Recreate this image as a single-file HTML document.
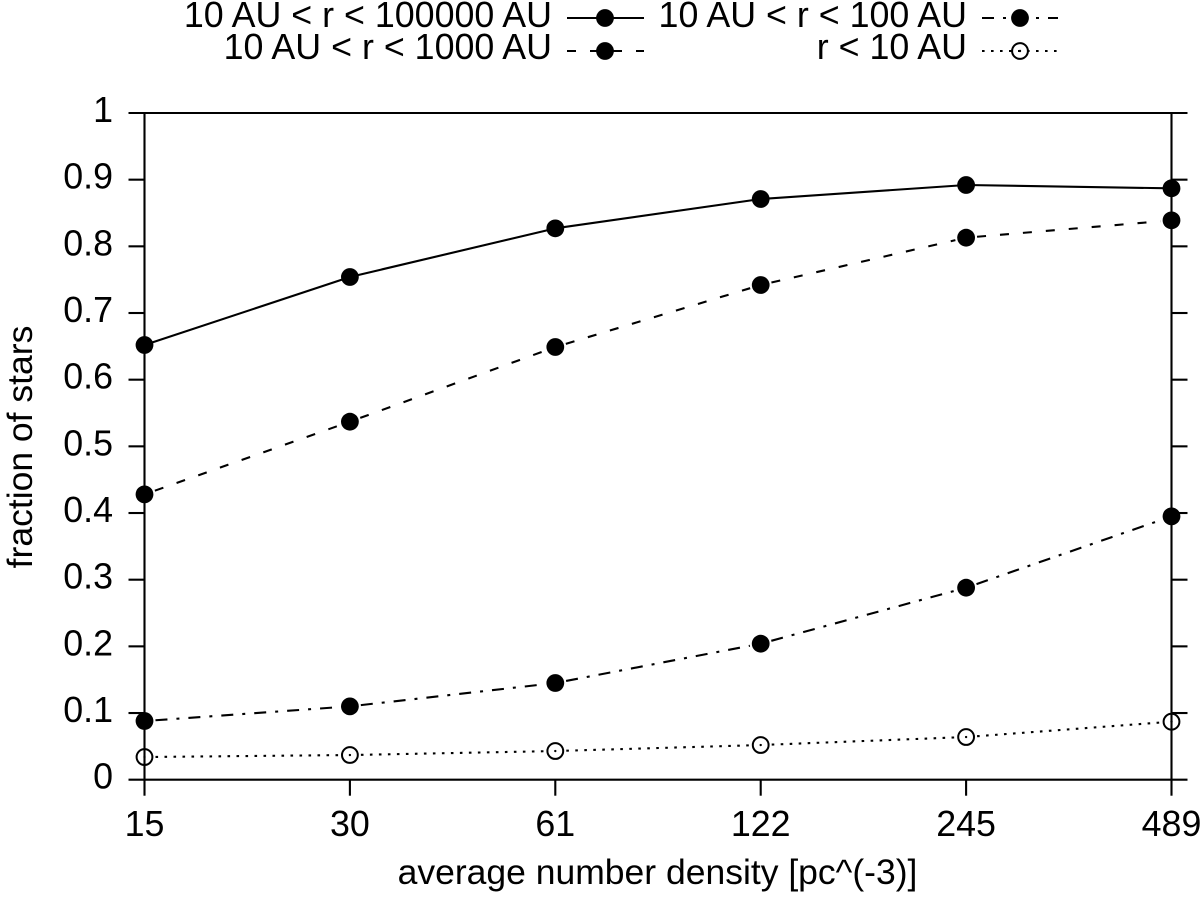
<!DOCTYPE html>
<html lang="en">
<head>
<meta charset="utf-8">
<title>Fraction of stars vs number density</title>
<style>
html,body{margin:0;padding:0;background:#fff;width:1200px;height:898px;overflow:hidden}
svg{display:block}
text{font-family:"Liberation Sans",sans-serif;font-size:35.8px;fill:#000}
text.axis-title{font-size:35.5px}
</style>
</head>
<body>
<svg id="chart" width="1200" height="898" viewBox="0 0 1200 898" xmlns="http://www.w3.org/2000/svg">
  <text class="axis-title" x="657.5" y="884" text-anchor="middle">average number density [pc^(-3)]</text>
  <text class="axis-title" transform="translate(32 447) rotate(-90)" text-anchor="middle">fraction of stars</text>
</svg>
<script>
const xTickLabels = ['15', '30', '61', '122', '245', '489'];
const yTickLabels = ['0', '0.1', '0.2', '0.3', '0.4', '0.5', '0.6', '0.7', '0.8', '0.9', '1'];
const yTickValues = [0, 0.1, 0.2, 0.3, 0.4, 0.5, 0.6, 0.7, 0.8, 0.9, 1];
const doublings = [0, 1, 2, 3, 4, 5];
const wideSeparation = [0.652, 0.754, 0.827, 0.871, 0.892, 0.887];
const midSeparation = [0.428, 0.537, 0.649, 0.742, 0.813, 0.839];
const closeSeparation = [0.088, 0.110, 0.145, 0.204, 0.288, 0.395];
const tightSeparation = [0.034, 0.037, 0.043, 0.052, 0.064, 0.087];

const NS = 'http://www.w3.org/2000/svg';
const svg = document.getElementById('chart');
const plot = {left: 144.5, right: 1171.5, top: 113, bottom: 779.7, tick: 16};
const dashes = {solid: '', dashed: '9 14', dashdot: '12 9 3 9', dotted: '2.6 6.4'};

function xScale(v) {
  const hi = doublings[doublings.length - 1];
  return plot.left + v / hi * (plot.right - plot.left);
}
function yScale(v) {
  return plot.bottom - v * (plot.bottom - plot.top);
}
function make(tag, attrs) {
  const el = document.createElementNS(NS, tag);
  for (const k in attrs) el.setAttribute(k, attrs[k]);
  svg.appendChild(el);
  return el;
}
function drawLine(x1, y1, x2, y2, dash) {
  const el = make('line', {x1, y1, x2, y2, stroke: '#000', 'stroke-width': 2.1});
  if (dash) el.setAttribute('stroke-dasharray', dash);
  return el;
}
function drawMarker(cx, cy, filled) {
  const el = make('circle', {cx, cy, r: filled ? 8.9 : 7.9, fill: filled ? '#000' : 'none', stroke: filled ? 'none' : '#000', 'stroke-width': 2});
  if (!filled) {
    const dot = make('circle', {cx, cy, r: 1.2, fill: '#000'});
    
    
  }
  return el;
}

/* frame */
const frameTop = drawLine(plot.left - plot.tick, plot.top, plot.right + plot.tick, plot.top);


const frameBottom = drawLine(plot.left - plot.tick, plot.bottom, plot.right + plot.tick, plot.bottom);


const frameLeft = drawLine(plot.left, plot.top, plot.left, plot.bottom);


const frameRight = drawLine(plot.right, plot.top, plot.right, plot.bottom);



/* y ticks */
yTickValues.forEach(function (v, i) {
  const y = yScale(v);
  if (v > 0 && v < 1) {
    const tl = drawLine(plot.left - plot.tick, y, plot.left, y);
    
    
    const tr = drawLine(plot.right, y, plot.right + plot.tick, y);
    
    
  }
  const label = make('text', {x: 113, y: y + 9, 'text-anchor': 'end'});
  label.textContent = yTickLabels[i];
  
  
});

/* x ticks */
doublings.forEach(function (v, i) {
  const x = xScale(v);
  const t = drawLine(x, plot.bottom, x, plot.bottom + plot.tick);
  
  
  const label = make('text', {x: x, y: 836, 'text-anchor': 'middle'});
  label.textContent = xTickLabels[i];
  
  
});

/* series */
function drawSeries(values, dash, filled, name) {
  for (let i = 0; i + 1 < values.length; i++) {
    const x1 = xScale(doublings[i]), y1 = yScale(values[i]);
    const x2 = xScale(doublings[i + 1]), y2 = yScale(values[i + 1]);
    const len = Math.hypot(x2 - x1, y2 - y1);
    const gap = dash ? 11 : 0;
    const ux = (x2 - x1) / len, uy = (y2 - y1) / len;
    const seg = drawLine(x1 + ux * gap, y1 + uy * gap, x2 - ux * gap, y2 - uy * gap, dash);
    
    
  }
  values.forEach(function (v, i) {
    const m = drawMarker(xScale(doublings[i]), yScale(v), filled);
    
    
  });
}
drawSeries(wideSeparation, dashes.solid, true, 'series-10-100000-au');
drawSeries(midSeparation, dashes.dashed, true, 'series-10-1000-au');
drawSeries(closeSeparation, dashes.dashdot, true, 'series-10-100-au');
drawSeries(tightSeparation, dashes.dotted, false, 'series-under-10-au');

/* legend */
function drawLegend(labelText, textRight, baseline, lineStart, lineEnd, markerX, lineY, dash, filled, name) {
  const label = make('text', {x: textRight, y: baseline, 'text-anchor': 'end'});
  label.textContent = labelText;
  
  
  const sample = drawLine(lineStart, lineY, lineEnd, lineY, dash);
  
  
  const marker = drawMarker(markerX, lineY, filled);
  
  
}
drawLegend('10 AU < r < 100000 AU', 552, 27, 567, 644, 605, 18, dashes.solid, true, 'legend-10-100000-au');
drawLegend('10 AU < r < 100 AU', 967, 27, 982, 1058, 1020, 18, dashes.dashdot, true, 'legend-10-100-au');
drawLegend('10 AU < r < 1000 AU', 552, 59, 567, 644, 605, 51, dashes.dashed, true, 'legend-10-1000-au');
drawLegend('r < 10 AU', 967, 59, 982, 1058, 1020, 51, dashes.dotted, false, 'legend-under-10-au');
</script>
</body>
</html>
